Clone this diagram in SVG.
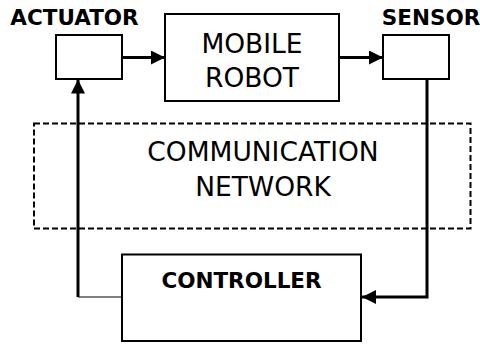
<svg xmlns="http://www.w3.org/2000/svg" width="480" height="344" viewBox="0 0 480 344">
<style>
.box{fill:#fff;stroke:#000;stroke-width:2}
.t{font-family:"DejaVu Sans",Verdana,sans-serif;font-size:26.5px;text-anchor:middle;fill:#000}
.b{font-family:"DejaVu Sans",Verdana,sans-serif;font-weight:bold;font-size:21.5px;text-anchor:middle;fill:#000}
.c{fill:none;stroke:#000}
</style>
<defs>
<marker id="ah" viewBox="0 0 14 14" refX="14" refY="7" markerWidth="14" markerHeight="14" markerUnits="userSpaceOnUse" orient="auto">
<path d="M0,0 L14,7 L0,14 Z" fill="#000"/>
</marker>
</defs>
<rect x="0" y="0" width="480" height="344" fill="#fff"/>
<g id="network">
<rect x="34" y="123.5" width="436.5" height="105" fill="none" stroke="#000" stroke-width="2" stroke-dasharray="6 3"/>
<text class="t" x="263" y="161">COMMUNICATION</text>
<text class="t" x="263" y="196">NETWORK</text>
</g>
<g id="connectors">
<line class="c" x1="122" y1="57.5" x2="165" y2="57.5" stroke-width="3" marker-end="url(#ah)"/>
<line class="c" x1="339" y1="57.5" x2="383" y2="57.5" stroke-width="3" marker-end="url(#ah)"/>
<polyline class="c" points="427,79 427,297 362,297" stroke-width="3" marker-end="url(#ah)"/>
<line class="c" x1="427" y1="79" x2="427" y2="297" stroke-width="2"/>
<line class="c" x1="78" y1="297" x2="121" y2="297" stroke-width="1"/>
<line class="c" x1="78" y1="297" x2="78" y2="79.5" stroke-width="3" marker-end="url(#ah)"/>
</g>
<g id="actuator">
<rect class="box" x="56" y="35" width="66" height="44"/>
<text class="b" x="74.5" y="25">ACTUATOR</text>
</g>
<g id="robot">
<rect class="box" x="165" y="14" width="174" height="87"/>
<text class="t" x="252" y="53">MOBILE</text>
<text class="t" x="252" y="87">ROBOT</text>
</g>
<g id="sensor">
<rect class="box" x="383" y="35" width="66" height="44"/>
<text class="b" x="431" y="25">SENSOR</text>
</g>
<g id="controller">
<rect class="box" x="122" y="254.5" width="239" height="86.5"/>
<text class="b" x="241.5" y="288">CONTROLLER</text>
</g>
</svg>
